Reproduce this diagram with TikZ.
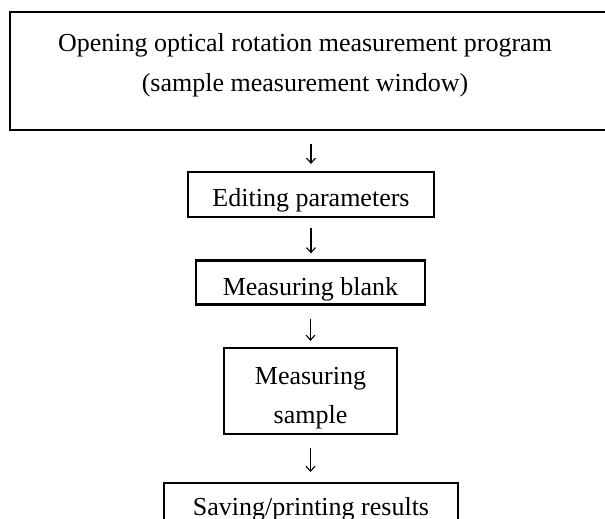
\documentclass[tikz,border=0pt]{standalone}
\usepackage{fontspec}
\setmainfont{Liberation Serif}
\usetikzlibrary{arrows.meta}
\begin{document}
\begin{tikzpicture}[x=1pt,y=-1pt,
 box/.style={draw, line width=2.2pt, inner sep=0pt, align=center, font=\fontsize{26}{38.5}\selectfont},
 oneline/.style={text height=28pt, text depth=5pt},
 txt/.style={inner sep=0pt, align=center, font=\fontsize{26}{39.5}\selectfont},
 arr/.style={line width=1.1pt, -{Straight Barb[length=5pt,width=9pt,line width=1.1pt]}}]
\useasboundingbox (0,0) rectangle (605,519);
\node[box, minimum width=600pt, minimum height=118pt, anchor=north west] (b1) at (9,11) {};
\node[txt] (t1) at (305,65) {Opening optical rotation measurement program\\(sample measurement window)};
\node[box, oneline, minimum width=246pt, minimum height=45pt] (b2) at (311,194.5) {Editing parameters};
\node[box, text height=30pt, text depth=5pt, minimum width=229pt, minimum height=44pt] (b3) at (310.5,282.5) {Measuring blank};
\node[box, text height=70pt, text depth=6pt, minimum width=173pt, minimum height=86pt] (b4) at (310.5,391) {Measuring\\sample};
\node[box, oneline, minimum width=294pt, minimum height=42pt, anchor=north] (b5) at (311,482) {Saving/printing results};
\draw[arr, shorten <=13pt, shorten >=7pt] (b1.south -| b2.north) -- (b2.north);
\draw[arr, shorten <=10pt, shorten >=6pt] (b2.south) -- (b2.south |- b3.north);
\draw[arr, shorten <=13pt, shorten >=6pt] (b3.south) -- (b3.south |- b4.north);
\draw[arr, shorten <=13pt, shorten >=10pt] (b4.south) -- (b4.south |- b5.north);
\end{tikzpicture}
\end{document}
